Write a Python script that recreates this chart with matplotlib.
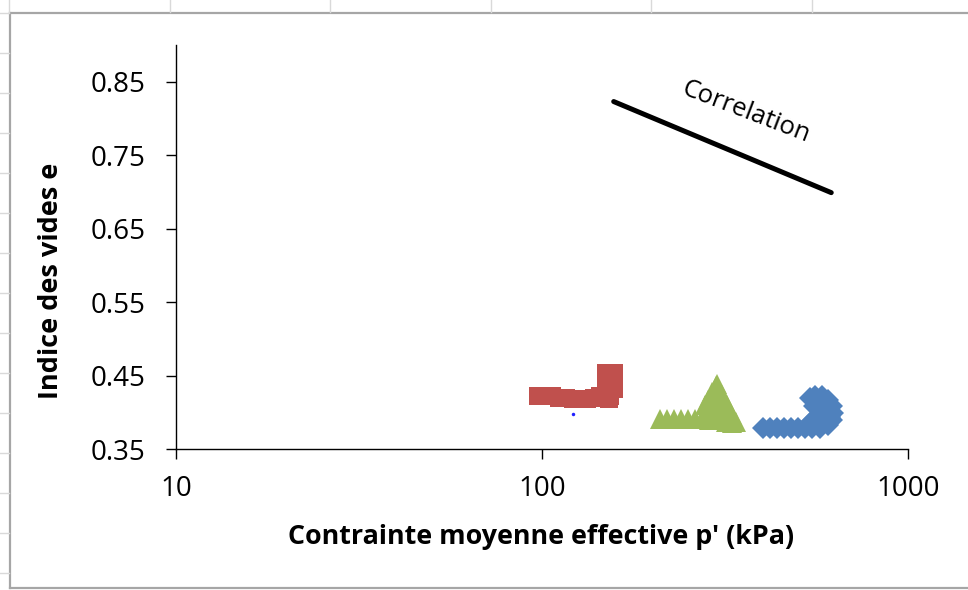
import matplotlib

matplotlib.use('Agg')
import matplotlib.pyplot as plt
from matplotlib.lines import Line2D

# ---- data ----
# red squares
red_p = [97.5, 101.9, 106.5, 111.3, 116.3, 121.5, 127.0, 132.7, 138.7, 144.0,
         149.6, 157.3, 149.6, 157.3, 157.3, 153.4, 152.0]
red_e = [0.4222, 0.4222, 0.4222, 0.4195, 0.4195, 0.4181, 0.4181, 0.4181, 0.4195, 0.4222,
         0.4535, 0.4535, 0.4426, 0.4426, 0.4317, 0.4222, 0.4181]

# green triangles
green_p = [210.1, 219.6, 229.5, 239.8, 250.6, 261.8, 273.6, 285.9, 278.8, 284.1,
           291.4, 298.8, 300.7, 310.3, 320.3, 330.5, 338.9, 298.8, 310.3,
           291.4, 304.0, 315.0, 325.0, 295.0, 318.0, 330.0]
green_e = [0.3909, 0.3909, 0.3909, 0.3909, 0.3909, 0.3909, 0.3909, 0.3895, 0.4099, 0.4168,
           0.4277, 0.4358, 0.4379, 0.4236, 0.4099, 0.3963, 0.3868, 0.4031, 0.3895,
           0.4031, 0.4168, 0.4099, 0.3963, 0.3895, 0.3870, 0.3860]

# blue diamonds
blue_p = [401.6, 419.8, 438.7, 458.5, 479.1, 500.6, 523.1, 546.7, 575.0, 604.5,
          620.0, 623.9, 620.0, 604.5, 582.2, 557.1, 539.8, 553.6, 582.2, 560.6, 593.3,
          568.0, 590.0, 605.0, 575.0, 600.0, 612.0, 540.0]
blue_e = [0.3786, 0.3786, 0.3786, 0.3786, 0.3786, 0.3786, 0.3786, 0.3786, 0.3786, 0.3827,
          0.3895, 0.3990, 0.4086, 0.4168, 0.4222, 0.4222, 0.4195, 0.4086, 0.4031, 0.3936, 0.3936,
          0.4120, 0.4130, 0.4000, 0.3850, 0.3860, 0.3940, 0.3860]

# lone small point
dot_p = [121.6]
dot_e = [0.398]

# correlation line
corr_p = [157, 617]
corr_e = [0.823, 0.699]

y_ticks = [0.35, 0.45, 0.55, 0.65, 0.75, 0.85]
x_ticks = [10, 100, 1000]

plt.rcParams['font.family'] = ['Open Sans', 'DejaVu Sans']

fig = plt.figure(figsize=(9.68, 5.90), dpi=100)
W, H = 968, 590
ax = fig.add_axes([176 / W, 1 - 449 / H, (908 - 176) / W, (449 - 45) / H])

ax.plot(red_p, red_e, ls='none', marker='s', ms=12.4, color='#C0504D', mew=0)
ax.plot(green_p, green_e, ls='none', marker='^', ms=14.2, color='#9BBB59', mew=0)
ax.plot(blue_p, blue_e, ls='none', marker='D', ms=10.8, color='#4F81BD', mew=0)
ax.plot(dot_p, dot_e, ls='none', marker='o', ms=2.5, color='#2020FF', mew=0)
ax.plot(corr_p, corr_e, color='black', lw=3.6, solid_capstyle='round')

fig.text(746 / W, 1 - 112 / H, 'Correlation', rotation=-21, fontsize=18.5,
         ha='center', va='center', rotation_mode='anchor')

ax.set_xscale('log')
ax.set_xlim(10, 1000)
ax.set_ylim(0.35, 0.90)
ax.set_xticks(x_ticks)
ax.set_xticklabels([str(v) for v in x_ticks])
ax.set_yticks(y_ticks)
ax.set_yticklabels(['%.2f' % v for v in y_ticks])
ax.minorticks_off()
ax.tick_params(axis='both', direction='out', length=7, width=1, labelsize=20)
ax.tick_params(axis='y', pad=15)
ax.tick_params(axis='x', pad=12)
for s in ['top', 'right']:
    ax.spines[s].set_visible(False)
for s in ['left', 'bottom']:
    ax.spines[s].set_linewidth(1)

fig.text(541 / W, 1 - 537 / H, "Contrainte moyenne effective p' (kPa)",
         fontsize=19.4, fontweight='bold', ha='center', va='center')
fig.text(51 / W, 1 - 281 / H, 'Indice des vides e', fontsize=19.5,
         fontweight='bold', rotation=90, ha='center', va='center')

# spreadsheet look: chart border and cell stubs
gray = '#A6A6A6'
light = '#D9D9D9'
fig.add_artist(Line2D([10 / W, 1], [1 - 13 / H, 1 - 13 / H], color=gray, lw=1.6))
fig.add_artist(Line2D([10 / W, 10 / W], [1 - 13 / H, 1 - 588 / H], color=gray, lw=1.6))
fig.add_artist(Line2D([10 / W, 1], [1 - 588 / H, 1 - 588 / H], color=gray, lw=1.6))
for cx in [9, 170, 330, 491, 651, 812]:
    fig.add_artist(Line2D([cx / W, cx / W], [1, 1 - 12 / H], color=light, lw=1))
for ry in range(13, 590, 40):
    fig.add_artist(Line2D([0, 9 / W], [1 - ry / H, 1 - ry / H], color=light, lw=1))

fig.savefig('out.png', dpi=100)
